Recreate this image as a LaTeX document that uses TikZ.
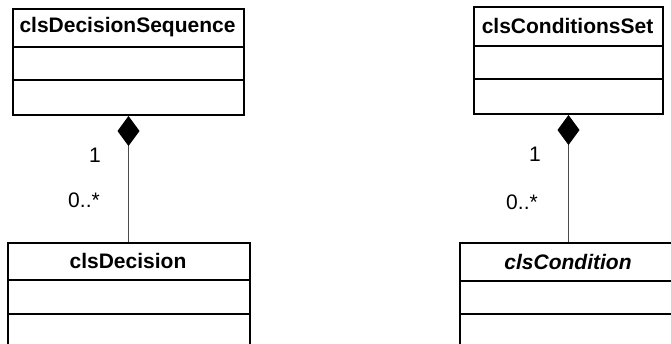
\documentclass[tikz,border=0pt]{standalone}
\usepackage{fontspec}
\setmainfont{Liberation Sans}
\usetikzlibrary{arrows.meta,positioning}
\tikzset{>=latex}
\tikzset{
  classbox/.style={draw, line width=2pt, inner sep=0pt, anchor=north west},
  classline/.style={line width=2pt},
  classname/.style={font=\fontsize{21}{25}\selectfont\bfseries},
  multip/.style={font=\fontsize{21}{25}\selectfont},
  composition/.style={{Diamond[length=30pt,width=22pt,color=black]}-, line width=1pt, draw=black!70}
}

\begin{document}
\begin{tikzpicture}[x=1pt,y=-1pt]
  \useasboundingbox (0,0) rectangle (671,343);
  \clip (0,0) rectangle (671,343);
  % classes
  \node[classbox, minimum width=231pt, minimum height=106pt] (decseq) at (12,8) {};
  \node[classbox, minimum width=242pt, minimum height=120pt] (dec) at (7,242) {};
  \node[classbox, minimum width=189pt, minimum height=107pt] (condset) at (473,6) {};
  \node[classbox, minimum width=218pt, minimum height=120pt] (cond) at (459,242) {};
  % compartments
  \foreach \c/\h/\m in {decseq/39/72, dec/38/72, condset/40/73, cond/39/72} {
    \draw[classline] ([yshift=-\h pt]\c.north west) -- ([yshift=-\h pt]\c.north east);
    \draw[classline] ([yshift=-\m pt]\c.north west) -- ([yshift=-\m pt]\c.north east);
  }
  \node[classname] (decseqname) at (127.5,27.5) {clsDecisionSequence};
  \node[classname] (decname) at (128,261) {clsDecision};
  \node[classname] (condsetname) at (567.5,26) {clsConditionsSet};
  \node[classname, font=\fontsize{21}{25}\selectfont\bfseries\itshape] (condname) at (568,261.5) {clsCondition};
  % compositions
  \draw[composition] (decseq.south) -- (decseq.south |- dec.north);
  \draw[composition] (condset.south) -- (condset.south |- cond.north);
  \node[multip] (decone) at (95,155) {1};
  \node[multip] (decmany) at (84,200) {0..*};
  \node[multip] (condone) at (535,154) {1};
  \node[multip] (condmany) at (522,202) {0..*};
\end{tikzpicture}
\end{document}
